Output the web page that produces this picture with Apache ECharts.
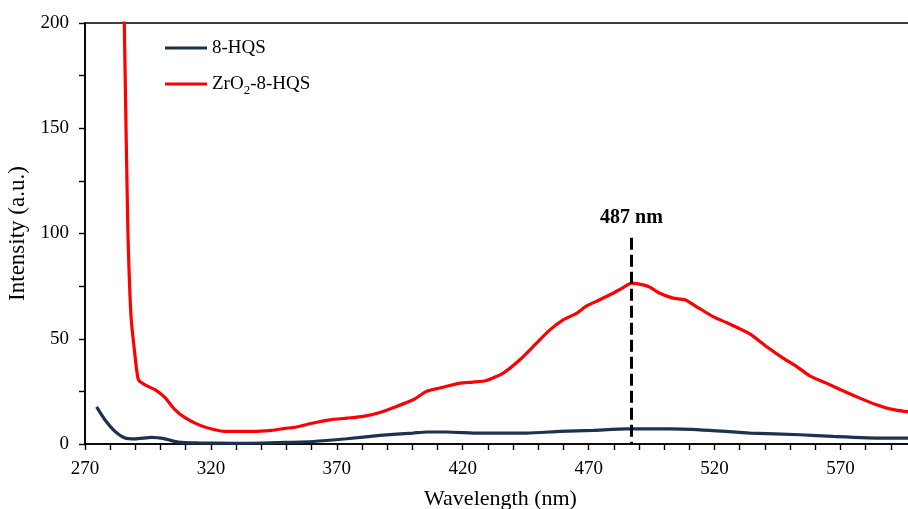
<!DOCTYPE html>
<html>
<head>
<meta charset="utf-8">
<title>Fluorescence emission spectra</title>
<script src="https://cdn.jsdelivr.net/npm/echarts@6/dist/echarts.min.js"></script>
<style>
  html, body { margin: 0; padding: 0; background: #ffffff; }
  #chart { width: 908px; height: 509px; }
</style>
</head>
<body>
<div id="chart"></div>
<script>
// Emission spectrum of free 8-HQS (wavelength in nm, intensity in a.u.)
const hqsWavelength = [274.6, 277.9, 281.9, 285.9, 289.8, 296.5, 301.8, 307.0, 315.0, 329.5,
  349.4, 360.6, 373.9, 387.1, 400.3, 405.6, 413.6, 426.8, 445.3, 458.6,
  471.8, 485.0, 494.3, 502.3, 518.1, 534.0, 553.9, 567.1, 586.9, 597.0, 600.0];
const hqsIntensity = [17.6, 11.5, 6.0, 2.8, 2.4, 3.1, 2.4, 0.9, 0.5, 0.3,
  0.8, 1.2, 2.5, 4.1, 5.2, 5.7, 5.7, 5.2, 5.2, 6.0,
  6.5, 7.2, 7.2, 7.2, 6.5, 5.2, 4.4, 3.6, 2.8, 2.8, 2.7];

// Emission spectrum of ZrO2-8-HQS
const zrWavelength = [284.9, 285.6, 286.95, 288.2, 289.6, 291.2, 293.8, 297.8, 301.8, 305.7,
  309.7, 315.0, 320.3, 325.6, 336.2, 344.1, 349.4, 354.0, 360.6, 367.3,
  373.9, 380.5, 387.1, 393.7, 400.3, 405.6, 410.9, 418.9, 424.1, 429.5,
  436.1, 442.7, 449.3, 454.6, 459.9, 465.2, 469.2, 474.4, 479.7, 483.7,
  487.0, 491.6, 494.3, 498.3, 503.5, 508.2, 512.8, 519.4, 524.7, 534.0,
  540.6, 547.2, 552.5, 557.8, 564.4, 571.0, 577.7, 584.3, 589.6, 595.5, 600.0];
const zrIntensity = [245, 200, 106, 62, 44.8, 30.5, 28.1, 25.8, 22.0, 16.3,
  12.5, 9.2, 7.1, 6.0, 6.0, 6.5, 7.4, 8.1, 10.0, 11.5,
  12.3, 13.1, 15.0, 17.8, 21.0, 25.0, 26.6, 28.9, 29.4, 30.2,
  33.7, 40.0, 47.9, 54.2, 59.0, 62.1, 65.6, 68.5, 71.6, 74.3,
  76.4, 75.6, 74.5, 71.6, 69.3, 68.5, 65.3, 60.5, 57.7, 52.3,
  46.3, 40.8, 36.9, 32.4, 28.9, 25.3, 21.8, 18.6, 16.7, 15.5, 15.0];

// Emission maximum marker
const peakWavelength = 487;
const peakMarkerTop = 98;

// Axis ranges and tick steps
const xRange = [270, 600];
const xTickStep = 10;
const xLabelStep = 50;
const yRange = [0, 200];
const yTickStep = 25;
const yLabelStep = 50;

const seriesNames = ['8-HQS', 'ZrO{sub|2}-8-HQS'];

const toPairs = (xs, ys) => xs.map((x, i) => [x, ys[i]]);

const FONT = '"Liberation Serif", "Times New Roman", serif';
const INK = '#000000';

const chart = echarts.init(document.getElementById('chart'), null, { renderer: 'canvas' });

const axisCommon = {
  axisLine: { show: true, lineStyle: { color: INK, width: 1.6 } },
  axisTick: { show: true, inside: false, length: 6, lineStyle: { color: INK, width: 1.4 } },
  splitLine: { show: false },
  axisLabel: { color: INK, fontFamily: FONT, fontSize: 19 }
};

chart.setOption({
  animation: false,
  backgroundColor: '#ffffff',
  grid: {
    left: 85, top: 23, width: 831, bottom: 65,
    outerBoundsMode: 'none',
    containLabel: false,
    show: true, borderColor: INK, borderWidth: 1.6, backgroundColor: 'transparent'
  },
  legend: {
    orient: 'vertical',
    left: 160, top: 33,
    itemWidth: 42, itemHeight: 20, itemGap: 16,
    icon: 'path://M0,0 L42,0 L42,3 L0,3 Z',
    data: seriesNames,
    textStyle: {
      color: INK, fontFamily: FONT, fontSize: 19, lineHeight: 20,
      rich: { sub: { fontFamily: FONT, fontSize: 13, verticalAlign: 'bottom', lineHeight: 14, padding: [0, 0, -3, 0] } }
    }
  },
  xAxis: Object.assign({}, axisCommon, {
    type: 'value',
    min: xRange[0], max: xRange[1], interval: xTickStep,
    name: 'Wavelength (nm)', nameLocation: 'middle', nameGap: 44,
    nameTextStyle: { color: INK, fontFamily: FONT, fontSize: 22 },
    axisLabel: Object.assign({}, axisCommon.axisLabel, {
      margin: 16,
      formatter: v => ((v - xRange[0]) % xLabelStep === 0 ? String(v) : '')
    })
  }),
  yAxis: Object.assign({}, axisCommon, {
    type: 'value',
    min: yRange[0], max: yRange[1], interval: yTickStep,
    name: 'Intensity (a.u.)', nameLocation: 'middle', nameGap: 49,
    nameTextStyle: { color: INK, fontFamily: FONT, fontSize: 23 },
    axisLabel: Object.assign({}, axisCommon.axisLabel, {
      margin: 16,
      formatter: v => (v % yLabelStep === 0 ? String(v) : '')
    })
  }),
  series: [
    {
      name: seriesNames[0],
      type: 'line',
      data: toPairs(hqsWavelength, hqsIntensity),
      showSymbol: false, symbol: 'none',
      smooth: 0.2,
      clip: true,
      color: '#1c3250',
      lineStyle: { color: '#1c3250', width: 3.2 },
      z: 3
    },
    {
      name: seriesNames[1],
      type: 'line',
      data: toPairs(zrWavelength, zrIntensity),
      showSymbol: false, symbol: 'none',
      smooth: 0.2,
      clip: true,
      color: '#ff0000',
      lineStyle: { color: '#ff0000', width: 3.2 },
      z: 2,
      markLine: {
        silent: true,
        symbol: ['none', 'none'],
        z: 4,
        lineStyle: { color: INK, type: [12, 5], width: 3 },
        label: {
          show: true, position: 'start', distance: 10,
          formatter: peakWavelength + ' nm',
          color: INK, fontFamily: FONT, fontSize: 20, fontWeight: 'bold'
        },
        data: [[
          { coord: [peakWavelength, peakMarkerTop] },
          { coord: [peakWavelength, yRange[0]] }
        ]]
      }
    }
  ]
});
</script>
</body>
</html>
